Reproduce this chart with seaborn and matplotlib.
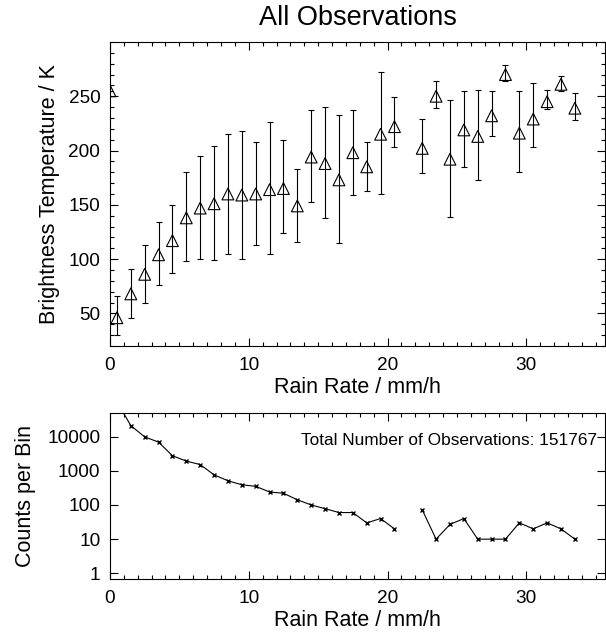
import numpy as np
import pandas as pd
import matplotlib
matplotlib.use("Agg")
import matplotlib.pyplot as plt
import matplotlib.ticker as mticker
import seaborn as sns

# bin centres (mm/h); 21.5 has no observations
rain_rate = [0.0, 0.5, 1.5, 2.5, 3.5, 4.5, 5.5, 6.5, 7.5, 8.5, 9.5, 10.5, 11.5,
             12.5, 13.5, 14.5, 15.5, 16.5, 17.5, 18.5, 19.5, 20.5, 21.5, 22.5,
             23.5, 24.5, 25.5, 26.5, 27.5, 28.5, 29.5, 30.5, 31.5, 32.5, 33.5]
tb_mean = [255, 46, 68, 86, 104, 117, 138, 147, 151, 160, 159, 160, 164,
           165, 149, 194, 188, 173, 198, 185, 215, 222, np.nan, 202,
           250, 192, 219, 213, 232, 270, 216, 229, 245, 261, 239]
tb_low = [255, 30, 46, 60, 76, 87, 98, 100, 99, 105, 100, 113, 105,
          124, 116, 153, 138, 115, 159, 163, 160, 203, np.nan, 179,
          239, 139, 185, 173, 213, 264, 180, 203, 238, 255, 228]
tb_high = [255, 66, 91, 113, 134, 150, 180, 195, 204, 215, 218, 208, 226,
           210, 183, 237, 240, 233, 237, 208, 272, 249, np.nan, 229,
           264, 247, 255, 256, 255, 279, 255, 262, 256, 269, 253]
counts = [np.nan, 104588, 21000, 9800, 6900, 2750, 1920, 1520, 760, 510, 390, 350, 240,
          220, 142, 100, 78, 60, 60, 30, 40, 20, np.nan, 72,
          10, 27, 40, 10, 10, 10, 30, 20, 30, 20, 10]
total_obs = 151767

sns.set_style("ticks")
plt.rcParams["font.family"] = ["Liberation Sans", "DejaVu Sans"]
plt.rcParams.update({
    "xtick.direction": "in", "ytick.direction": "in",
    "xtick.top": True, "ytick.right": True,
    "xtick.color": "black", "ytick.color": "black",
    "xtick.major.size": 5.8, "ytick.major.size": 5.8,
    "xtick.minor.size": 2.9, "ytick.minor.size": 2.9,
    "xtick.major.width": 0.8, "ytick.major.width": 0.8,
    "xtick.minor.width": 0.8, "ytick.minor.width": 0.8,
    "xtick.minor.visible": True, "ytick.minor.visible": True,
    "axes.edgecolor": "black", "axes.linewidth": 0.8,
    "axes.axisbelow": False,
    "text.color": "black", "axes.labelcolor": "black",
})

fig = plt.figure(figsize=(6.06, 6.34), dpi=100)
ax1 = fig.add_axes([0.1815, 0.4543, 0.8175, 0.4795])
ax2 = fig.add_axes([0.1815, 0.0863, 0.8175, 0.2618])

df = pd.DataFrame({"rain": rain_rate, "tb": tb_mean, "lo": tb_low, "hi": tb_high,
                   "n": counts})

# brightness temperature with spread
yerr = [df["tb"] - df["lo"], df["hi"] - df["tb"]]
ax1.errorbar(df["rain"], df["tb"], yerr=yerr, fmt="none", ecolor="black",
             elinewidth=0.8, capsize=2.2, capthick=0.8)
sns.scatterplot(data=df, x="rain", y="tb", marker="^", s=72, facecolor="none",
                edgecolor="black", linewidth=0.8, ax=ax1)

# counts per bin, split into continuous segments where bins are empty
df["segment"] = df["n"].isna().cumsum()
seg = df.dropna(subset=["n"])
sns.lineplot(data=seg, x="rain", y="n", units="segment", estimator=None,
             color="black", linewidth=0.8, marker="x", markersize=3.5,
             markeredgecolor="black", markeredgewidth=1.0, ax=ax2)
ax2.set_yscale("log")

ax1.set_xlim(0, 35.7)
ax1.set_ylim(20, 300)
ax2.set_xlim(0, 35.7)
ax2.set_ylim(0.67, 48000)

ax1.set_title("All Observations", fontsize=19.5, pad=12)
ax1.set_ylabel("Brightness Temperature / K", fontsize=15.5, labelpad=6)
ax2.set_ylabel("Counts per Bin", fontsize=15.5, labelpad=8)
for ax in (ax1, ax2):
    ax.set_xlabel("Rain Rate / mm/h", fontsize=15.5, labelpad=2)
    ax.xaxis.set_major_locator(mticker.MultipleLocator(10))
    ax.xaxis.set_minor_locator(mticker.MultipleLocator(1))
    ax.tick_params(which="both", direction="in", top=True, right=True,
                   bottom=True, left=True, colors="black", width=0.8,
                   labelsize=13.7)
    ax.tick_params(which="major", length=5.8, pad=8)
    ax.tick_params(which="minor", length=2.9)
    for sp in ax.spines.values():
        sp.set_linewidth(0.8)
        sp.set_visible(True)

ax1.yaxis.set_major_locator(mticker.FixedLocator([50, 100, 150, 200, 250]))
ax1.yaxis.set_minor_locator(mticker.MultipleLocator(10))
ax1.tick_params(axis="y", pad=7)

decades = [1, 10, 100, 1000, 10000]
ax2.yaxis.set_major_locator(mticker.FixedLocator(decades))
ax2.yaxis.set_major_formatter(mticker.FixedFormatter([str(d) for d in decades]))
ax2.yaxis.set_minor_locator(mticker.LogLocator(base=10, subs=np.arange(2, 10)))
ax2.yaxis.set_minor_formatter(mticker.NullFormatter())
ax2.tick_params(axis="y", pad=7)

ax2.text(0.984, 0.839, f"Total Number of Observations: {total_obs}",
         transform=ax2.transAxes, ha="right", va="center", fontsize=12.4)

fig.savefig("out.png", dpi=100)
